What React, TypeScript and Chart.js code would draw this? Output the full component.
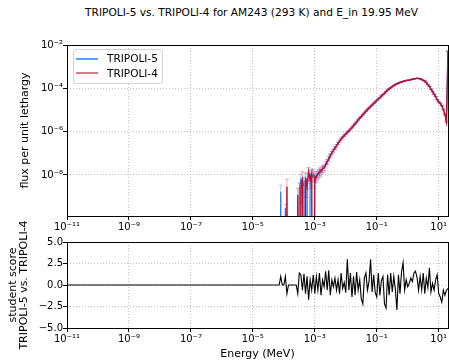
import { useEffect, useRef } from 'react';
import { Chart, registerables } from 'chart.js';

Chart.register(...registerables);

// ---- energy binning (log-uniform bin centres, MeV) ----
const LOG_E_START = -4.2;
const LOG_E_STEP = 0.05;
const E_MIN = 1e-11;
const E_MAX = 19.95;

// ---- flux per unit lethargy ----
const FLUX_T4 = [
  0, 0, 0, 0, 0, 0, 2.9e-9, 0, 0, 0, 0, 0, 0, 1.2e-9, 0, 2.4e-9, 7.8e-9, 0, 7.5e-9, 3.0e-9,
  1.4e-8, 6.0e-9, 1.2e-8, 0, 9.0e-9, 8.0e-9, 1.2e-8, 1.25e-8, 1.7e-8, 1.85e-8,
  2.25e-8, 2.8e-8, 4.2e-8, 5.3e-8, 8.2e-8, 1.03e-7, 1.36e-7, 1.72e-7, 2.26e-7, 2.88e-7,
  3.65e-7, 4.5e-7, 5.5e-7, 6.6e-7, 7.9e-7, 9.1e-7, 1.1e-6, 1.28e-6, 1.57e-6, 1.89e-6,
  2.32e-6, 2.78e-6, 3.5e-6, 4.2e-6, 5.0e-6, 6.05e-6, 7.2e-6, 8.7e-6, 1.05e-5, 1.23e-5,
  1.45e-5, 1.7e-5, 2.0e-5, 2.34e-5, 2.75e-5, 3.2e-5, 3.7e-5, 4.4e-5, 5.1e-5, 6.0e-5,
  7.1e-5, 8.3e-5, 9.5e-5, 1.07e-4, 1.2e-4, 1.35e-4, 1.48e-4, 1.62e-4, 1.74e-4, 1.86e-4,
  1.95e-4, 2.09e-4, 2.19e-4, 2.29e-4, 2.34e-4, 2.4e-4, 2.51e-4, 2.63e-4, 2.75e-4, 2.82e-4,
  2.88e-4, 2.88e-4, 2.75e-4, 2.57e-4, 2.34e-4, 2.19e-4, 1.82e-4, 1.48e-4, 1.23e-4, 9.1e-5,
  7.1e-5, 5.4e-5, 4.2e-5, 3.0e-5, 2.4e-5, 2.0e-5, 1.58e-5, 1.05e-5, 6.3e-6, 2.9e-6,
  5.2e-3,
];

const FLUX_T5 = [
  0, 0, 1.7e-9, 0, 0, 3.0e-10, 0, 0, 0, 0, 0, 0, 0, 0, 2.1e-9, 5.9e-9, 3.0e-9, 4.5e-9, 0, 7.0e-9,
  0, 1.0e-8, 7.0e-9, 1.1e-8, 5.0e-9, 1.0e-8, 1.0e-8, 1.5e-8, 1.4e-8, 2.0e-8,
  2.2e-8, 3.3e-8, 4.0e-8, 6.1e-8, 7.4e-8, 1.07e-7, 1.35e-7, 1.78e-7, 2.2e-7, 2.95e-7,
  3.52e-7, 4.7e-7, 5.45e-7, 6.65e-7, 7.7e-7, 9.8e-7, 1.09e-6, 1.31e-6, 1.52e-6, 1.92e-6,
  2.27e-6, 2.84e-6, 3.47e-6, 4.22e-6, 4.95e-6, 5.9e-6, 7.24e-6, 8.78e-6, 1.04e-5, 1.232e-5,
  1.47e-5, 1.69e-5, 2.01e-5, 2.33e-5, 2.73e-5, 3.22e-5, 3.68e-5, 4.41e-5, 5.12e-5, 5.95e-5,
  7.02e-5, 8.35e-5, 9.45e-5, 1.075e-4, 1.198e-4, 1.352e-4, 1.479e-4, 1.61e-4, 1.743e-4, 1.858e-4,
  1.955e-4, 2.1e-4, 2.188e-4, 2.292e-4, 2.339e-4, 2.401e-4, 2.513e-4, 2.632e-4, 2.758e-4, 2.83e-4,
  2.885e-4, 2.877e-4, 2.756e-4, 2.566e-4, 2.348e-4, 2.185e-4, 1.823e-4, 1.479e-4, 1.236e-4, 9.08e-5,
  7.11e-5, 5.38e-5, 4.21e-5, 3.03e-5, 2.37e-5, 1.97e-5, 1.54e-5, 1.04e-5, 6.2e-6, 2.88e-6,
  5.2e-3,
];

// relative statistical uncertainty of each bin
const REL_ERR = [
  1, 1, 1, 1, 1, 0.5, 1.2, 1, 1, 1, 1, 1, 1, 1, 1,
  0.8, 0.8, 0.8, 0.7, 0.7, 0.6, 0.6, 0.55, 0.55, 0.5,
  0.45, 0.42, 0.4, 0.36, 0.33, 0.3, 0.27, 0.25, 0.22, 0.2,
  0.18, 0.16, 0.15, 0.14, 0.12, 0.11, 0.1, 0.09, 0.085, 0.08, 0.075,
  0.07, 0.065, 0.06, 0.055, 0.05, 0.047, 0.044, 0.041, 0.038, 0.035,
  0.033, 0.031, 0.029, 0.027, 0.025, 0.024, 0.023, 0.022, 0.021, 0.02,
  0.02, 0.019, 0.018, 0.018, 0.017, 0.016, 0.016, 0.015, 0.015, 0.014,
  0.014, 0.013, 0.013, 0.013, 0.012, 0.012, 0.012, 0.012, 0.011, 0.011,
  0.011, 0.011, 0.011, 0.011, 0.011, 0.011, 0.012, 0.012, 0.012, 0.013,
  0.013, 0.014, 0.015, 0.016, 0.017,
  0.019, 0.021, 0.024, 0.027, 0.03, 0.034, 0.04, 0.05, 0.07,
  0.01,
];

// student score TRIPOLI-5 vs. TRIPOLI-4
const SCORE = [
  0, 0, 1.0, 0, 0, 1.0, -1.0, 0, 0, 0, 0, 0, 0, -1.0,
  1.4, 1.2, -0.6, 1.3, -1.0, 1.0, -1.7, 0.6, -0.6, 1.2,
  -1.0, 1.0, -0.6, 1.4, -1.2, 0.6, -0.2, 1.6, -0.6, 1.7,
  -1.2, 0.6, -0.2, 0.8, -0.6, 0.6, -1.0, 1.4, -0.4, 0.3,
  -0.9, 3.0, -0.6, 1.4, -1.4, 1.0, -1.2, 1.5, -0.6, 0.6,
  -1.6, -2.2, 0.8, 1.4, -0.6, 0.4, 3.0, -0.8, 1.2, -0.9, -1.4,
  1.4, -1.2, 0.5, 1.0, -2.2, -2.7, 1.2, -1.2, 1.4, -0.8, 1.0, -0.5, -2.9, 1.2, -1.0, 1.5, 2.6, -0.6, 0.6, -0.2,
  0.2, 0.8, 0.4, 1.4, 1.6, 0.9, -0.6, 1.0, -0.6, 1.4, -1.0, 0.8, -0.3, 2.0, -0.8, 0.2, -0.6, 0.6, 1.2, -1.0,
  -1.4, -2.0, -0.6, -1.2, -0.6, -0.4,
];

// ---- ticks ----
const X_TICKS = [1e-11, 1e-9, 1e-7, 1e-5, 1e-3, 1e-1, 1e1];
const X_TICK_LABELS = ['10⁻¹¹', '10⁻⁹', '10⁻⁷', '10⁻⁵', '10⁻³', '10⁻¹', '10¹'];
const Y_TOP_MIN = 1.28e-10;
const Y_TOP_MAX = 1e-2;
const Y_TOP_TICKS = [1e-8, 1e-6, 1e-4, 1e-2];
const Y_TOP_TICK_LABELS = ['10⁻⁸', '10⁻⁶', '10⁻⁴', '10⁻²'];
const Y_BOT_TICKS = [-5, -2.5, 0, 2.5, 5];
const Y_BOT_TICK_LABELS = ['−5.0', '−2.5', '0.0', '2.5', '5.0'];

const TITLE = 'TRIPOLI-5 vs. TRIPOLI-4 for AM243 (293 K) and E_in 19.95 MeV';
const SERIES_NAMES = ['TRIPOLI-5', 'TRIPOLI-4'];

const FONT = 'DejaVu Sans';
const T5_LINE = 'rgb(30,120,255)';
const T4_LINE = 'rgb(185,15,50)';
const T5_ERR = 'rgba(30,120,255,0.35)';
const T4_ERR = 'rgba(220,20,60,0.35)';
const T5_LEGEND = 'rgb(90,160,255)';
const T4_LEGEND = 'rgb(228,118,136)';

const ENERGY = SCORE.map((_, i) => Math.pow(10, LOG_E_START + i * LOG_E_STEP));

const BOT_CANVAS_TOP = 200;
const BOT_CANVAS_H = 360 - BOT_CANVAS_TOP;

const framePlugin = {
  id: 'frame',
  afterDatasetsDraw(chart: any) {
    const { ctx, chartArea: a } = chart;
    ctx.save();
    ctx.strokeStyle = '#000';
    ctx.lineWidth = 1;
    ctx.strokeRect(a.left + 0.5, a.top + 0.5, a.right - a.left, a.bottom - a.top);
    ctx.restore();
  },
};

const errorBarPlugin = {
  id: 'errorBars',
  beforeDatasetDraw(chart: any, args: any) {
    const ds = chart.data.datasets[args.index];
    if (!ds.errColor) return;
    const meta = args.meta;
    const { ctx, chartArea } = chart;
    const yScale = chart.scales.y;
    ctx.save();
    ctx.beginPath();
    ctx.rect(chartArea.left, chartArea.top, chartArea.right - chartArea.left, chartArea.bottom - chartArea.top);
    ctx.clip();
    ctx.strokeStyle = ds.errColor;
    ctx.lineWidth = 1;
    ds.rawFlux.forEach((v: number, i: number) => {
      if (!(v > 0)) return;
      const el = meta.data[i];
      if (!el) return;
      const x = el.x;
      const lo = v * (1 - REL_ERR[i]);
      const hi = v * (1 + REL_ERR[i]);
      const yHi = yScale.getPixelForValue(hi);
      const yLo = lo > 0 ? yScale.getPixelForValue(lo) : chartArea.bottom + 5;
      ctx.beginPath();
      ctx.moveTo(x, yLo);
      ctx.lineTo(x, yHi);
      ctx.moveTo(x - 2, yHi);
      ctx.lineTo(x + 2, yHi);
      if (lo > 0) {
        ctx.moveTo(x - 2, yLo);
        ctx.lineTo(x + 2, yLo);
      }
      ctx.stroke();
    });
    ctx.restore();
  },
};

const gridOpts = {
  color: '#c4c4c4',
  lineWidth: 1,
  tickLength: 4,
  tickColor: '#000',
  tickWidth: 1,
  tickBorderDash: [],
};
const borderOpts = { display: false, dash: [1, 2] };
const tickFont = { family: FONT, size: 10 };

function xAxis(height: number, withTitle: boolean) {
  return {
    type: 'logarithmic',
    min: E_MIN,
    max: E_MAX,
    grid: gridOpts,
    border: borderOpts,
    afterBuildTicks: (s: any) => {
      s.ticks = X_TICKS.map((v) => ({ value: v }));
    },
    afterFit: (s: any) => {
      s.height = height;
    },
    ticks: {
      autoSkip: false,
      maxRotation: 0,
      padding: 1,
      color: '#000',
      font: tickFont,
      callback: (_v: any, i: number) => X_TICK_LABELS[i],
    },
    title: withTitle
      ? {
          display: true,
          text: 'Energy (MeV)',
          color: '#000',
          font: { family: FONT, size: 11, lineHeight: 1.0 },
          padding: { top: 0, bottom: 0 },
        }
      : { display: false },
  };
}

export default function App() {
  const topRef = useRef<HTMLCanvasElement>(null);
  const botRef = useRef<HTMLCanvasElement>(null);

  useEffect(() => {
    const toPts = (arr: number[]) =>
      arr.map((v, i) => ({ x: ENERGY[i], y: v > 0 ? v : 1e-30 }));

    const top = new Chart(topRef.current as HTMLCanvasElement, {
      type: 'line',
      data: {
        datasets: [
          {
            label: SERIES_NAMES[0],
            data: toPts(FLUX_T5),
            borderColor: T5_LINE,
            borderWidth: 1.2,
            pointRadius: 0,
            tension: 0,
            order: 2,
            errColor: T5_ERR,
            rawFlux: FLUX_T5,
          } as any,
          {
            label: SERIES_NAMES[1],
            data: toPts(FLUX_T4),
            borderColor: T4_LINE,
            borderWidth: 1.4,
            pointRadius: 0,
            tension: 0,
            order: 1,
            errColor: T4_ERR,
            rawFlux: FLUX_T4,
          } as any,
        ],
      },
      options: {
        responsive: false,
        animation: false,
        events: [],
        layout: { padding: { top: 45, right: 1, left: 0, bottom: 0 } },
        plugins: { legend: { display: false }, title: { display: false }, tooltip: { enabled: false } },
        scales: {
          x: xAxis(16, false) as any,
          y: {
            type: 'logarithmic',
            min: Y_TOP_MIN,
            max: Y_TOP_MAX,
            grid: gridOpts,
            border: borderOpts,
            afterBuildTicks: (s: any) => {
              s.ticks = Y_TOP_TICKS.map((v) => ({ value: v }));
            },
            afterFit: (s: any) => {
              s.width = 67;
            },
            ticks: {
              autoSkip: false,
              padding: 0,
              color: '#000',
              font: tickFont,
              callback: (_v: any, i: number) => Y_TOP_TICK_LABELS[i],
            },
            title: {
              display: true,
              text: 'flux per unit lethargy',
              color: '#000',
              font: { family: FONT, size: 11, lineHeight: 1.2 },
              padding: { top: 19, bottom: 0 },
            },
          } as any,
        },
      },
      plugins: [errorBarPlugin, framePlugin],
    });

    const bot = new Chart(botRef.current as HTMLCanvasElement, {
      type: 'line',
      data: {
        datasets: [
          {
            label: 'student score',
            data: [{ x: E_MIN, y: 0 }, ...SCORE.map((v, i) => ({ x: ENERGY[i], y: v }))],
            borderColor: '#000',
            borderWidth: 1.1,
            pointRadius: 0,
            tension: 0,
          },
        ],
      },
      options: {
        responsive: false,
        animation: false,
        events: [],
        layout: { padding: { top: 242 - BOT_CANVAS_TOP, right: 1, left: 0, bottom: 0 } },
        plugins: { legend: { display: false }, title: { display: false }, tooltip: { enabled: false } },
        scales: {
          x: xAxis(32, true) as any,
          y: {
            type: 'linear',
            min: -5,
            max: 5,
            grid: gridOpts,
            border: borderOpts,
            afterBuildTicks: (s: any) => {
              s.ticks = Y_BOT_TICKS.map((v) => ({ value: v }));
            },
            afterFit: (s: any) => {
              s.width = 67;
            },
            ticks: {
              autoSkip: false,
              padding: 0,
              color: '#000',
              font: tickFont,
              callback: (_v: any, i: number) => Y_BOT_TICK_LABELS[i],
            },
            title: {
              display: true,
              text: ['student score', 'TRIPOLI-5 vs. TRIPOLI-4'],
              color: '#000',
              font: { family: FONT, size: 11, lineHeight: 1.05 },
              padding: { top: 7, bottom: 0 },
            },
          } as any,
        },
      },
      plugins: [framePlugin],
    });

    return () => {
      top.destroy();
      bot.destroy();
    };
  }, []);

  const legendRow = (name: string, color: string, lineTop: number, textTop: number) => (
    <>
      <div
        style={{
          position: 'absolute',
          left: 2,
          top: lineTop,
          width: 22,
          height: 2,
          backgroundColor: color,
        }}
      />
      <div
        style={{
          position: 'absolute',
          left: 33,
          top: textTop,
          fontSize: 10.5,
          lineHeight: '12px',
          whiteSpace: 'nowrap',
          color: '#000',
        }}
      >
        {name}
      </div>
    </>
  );

  return (
    <div
      style={{
        position: 'absolute',
        left: 0,
        top: 0,
        width: 449,
        height: 360,
        overflow: 'hidden',
        background: '#fff',
        fontFamily: FONT,
      }}
    >
      <div
        style={{
          position: 'absolute',
          left: 251.5,
          top: 6,
          transform: 'translateX(-50%)',
          fontSize: 10.6,
          lineHeight: '12px',
          whiteSpace: 'nowrap',
          color: '#000',
        }}
      >
        {TITLE}
      </div>
      <canvas ref={topRef} width={449} height={232} style={{ position: 'absolute', left: 0, top: 0 }} />
      <canvas
        ref={botRef}
        width={449}
        height={BOT_CANVAS_H}
        style={{ position: 'absolute', left: 0, top: BOT_CANVAS_TOP }}
      />
      <div
        style={{
          position: 'absolute',
          left: 73,
          top: 49,
          width: 88,
          height: 33,
          border: '1px solid #d4d4d4',
          borderRadius: 3,
          background: 'rgba(255,255,255,0.8)',
        }}
      >
        {legendRow(SERIES_NAMES[0], T5_LEGEND, 8, 2)}
        {legendRow(SERIES_NAMES[1], T4_LEGEND, 22, 17)}
      </div>
    </div>
  );
}
